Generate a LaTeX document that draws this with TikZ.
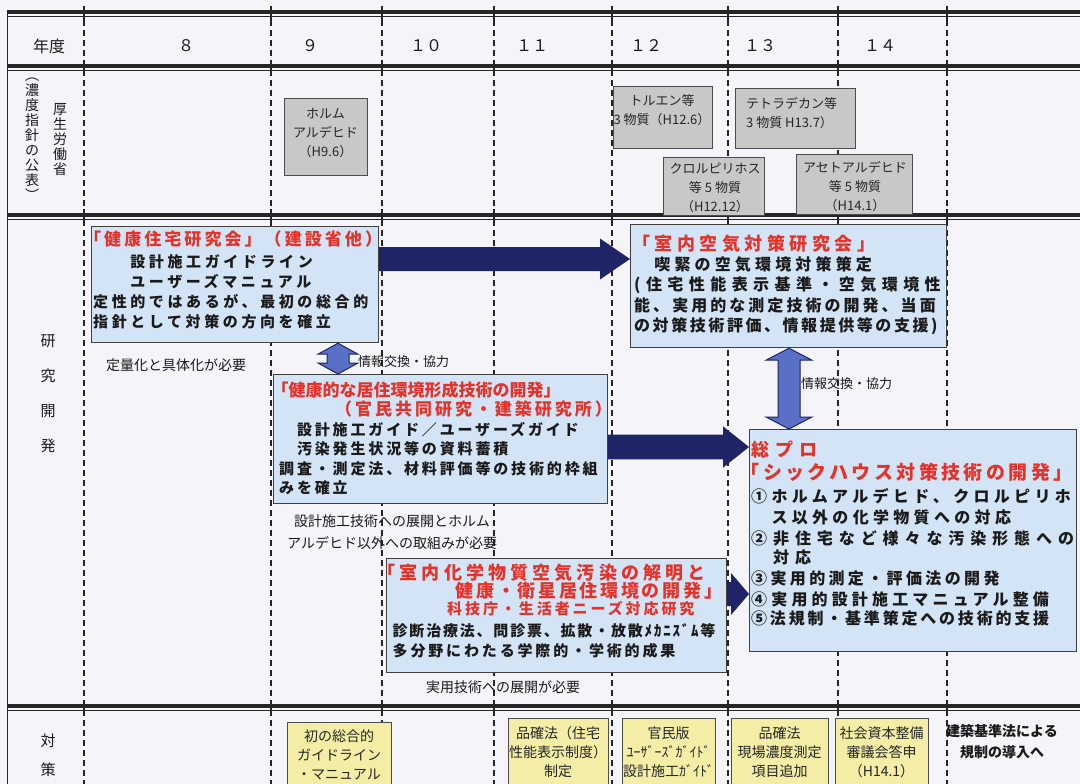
\documentclass[tikz,border=0pt]{standalone}
\usepackage{fontspec}
\setmainfont{Noto Sans CJK JP}
\usetikzlibrary{calc}
\definecolor{bg}{HTML}{F4F4F9}
\definecolor{boxblue}{HTML}{D2E4F6}
\definecolor{boxgray}{HTML}{C8C8C8}
\definecolor{boxyel}{HTML}{F3EDA6}
\definecolor{navy}{HTML}{1E2466}
\definecolor{midblue}{HTML}{5A6FC6}
\definecolor{jred}{HTML}{E63228}
\definecolor{ink}{HTML}{1A1A1A}
\newcommand\LS[1]{\addfontfeature{LetterSpace=#1}}
\newcommand\fs[2]{\fontsize{#1}{#2}\selectfont}
\newcommand\harrow[6]{%
  \path[#6] let \p1=(#1), \p2=(#2) in
  (\x1,\y2+#3pt) -- (\x2-#5pt,\y2+#3pt) -- (\x2-#5pt,\y2+#4pt) -- (\x2,\y2)
  -- (\x2-#5pt,\y2-#4pt) -- (\x2-#5pt,\y2-#3pt) -- (\x1,\y2-#3pt) -- cycle;}
\newcommand\vdarrow[6]{%
  \path[#6] let \p1=(#1), \p2=(#2) in
  (\x1,\y1) -- (\x1+#4pt,\y1-#5pt) -- (\x1+#3pt,\y1-#5pt) -- (\x1+#3pt,\y2+#5pt)
  -- (\x1+#4pt,\y2+#5pt) -- (\x1,\y2) -- (\x1-#4pt,\y2+#5pt) -- (\x1-#3pt,\y2+#5pt)
  -- (\x1-#3pt,\y1-#5pt) -- (\x1-#4pt,\y1-#5pt) -- cycle;}
\begin{document}
\begin{tikzpicture}[x=1pt,y=-1pt,
  rulethick/.style={line width=4pt, black!85},
  rulethin/.style={line width=1.3pt, black!85},
  colline/.style={line width=1.8pt, black!85, dash pattern=on 6pt off 4pt},
  coltick/.style={line width=1.8pt, black!85},
  bluebox/.style={draw=black!75, line width=1.2pt, fill=boxblue, inner sep=0, anchor=north west},
  graybox/.style={draw=black!70, line width=1pt, fill=boxgray, inner sep=0, anchor=north west},
  yelbox/.style={draw=black!70, line width=1pt, fill=boxyel, inner sep=0, anchor=north west},
  boxtext/.style={inner sep=0, anchor=north west, align=left, text=ink, font=\fs{15}{20}\bfseries},
  smalltext/.style={inner sep=0, anchor=north, align=center, text=black!85, font=\fs{13}{19}},
  yeltext/.style={inner sep=0, anchor=north, align=center, text=black!85, font=\fs{14}{19}},
  note/.style={inner sep=0, anchor=west, text=ink, font=\fs{14}{20}},
  label/.style={inner sep=0, align=center, text=ink, font=\fs{15}{20}},
  header/.style={inner sep=0, text=ink, font=\fs{16}{20}},
  bigarrow/.style={fill=navy},
  linkarrow/.style={fill=midblue, draw=navy, line width=1pt, line join=miter}
]
\useasboundingbox (0,0) rectangle (1080,784);
\clip (0,0) rectangle (1080,784);
\fill[bg] (0,0) rectangle (1080,784);

% column separators
\foreach \cx in {84,271,382,494,612,728,838,947} {
  \draw[colline] (\cx,10) -- (\cx,790);
  \foreach \ry in {12,66,215,706} \draw[coltick] (\cx,\ry-6) -- (\cx,\ry+9);
}
% horizontal double rules
\foreach \ry in {12,66,215,706} {
  \draw[rulethick] (7,\ry) -- (1080,\ry);
  \draw[rulethin] (7,\ry+4.5) -- (1080,\ry+4.5);
}
\draw[line width=1.5pt, black!85] (7.5,10) -- (7.5,784);

% header row
\node[header] (hnen) at (49,46) {年度};
\node[header] (y8) at (186,46) {８};
\node[header] (y9) at (310,46) {９};
\node[header] (y10) at (426,46) {１０};
\node[header] (y11) at (532,46) {１１};
\node[header] (y12) at (646,46) {１２};
\node[header] (y13) at (760,46) {１３};
\node[header] (y14) at (880,46) {１４};

% row labels
\node[label, font=\fs{14}{15}] (lnoudo) at (32,139) {︵\\濃\\度\\指\\針\\の\\公\\表\\︶};
\node[label, font=\fs{14}{15}] (lkousei) at (60,140) {厚\\生\\労\\働\\省};
\node[label, font=\fs{15}{35}] (lken) at (48,394) {研\\究\\開\\発};
\node[label, font=\fs{15}{29}] (ltai) at (48,755) {対\\策};

% gray boxes (guideline publications)
\node[graybox, minimum width=83pt, minimum height=77pt] (g1) at (284,98) {};
\node[smalltext] (g1t) at (325.5,108) {ホルム\\アルデヒド\\（H9.6）};
\node[graybox, minimum width=99pt, minimum height=62pt] (g2) at (613,86) {};
\node[smalltext] (g2t) at (662,94) {トルエン等\\3 物質（H12.6）};
\node[graybox, minimum width=120pt, minimum height=60pt] (g3) at (735,88) {};
\node[smalltext, anchor=north west, align=left] (g3t) at (746,97) {テトラデカン等\\3 物質 H13.7）};
\node[graybox, minimum width=101pt, minimum height=58pt] (g4) at (663,157) {};
\node[smalltext] (g4t) at (715,163) {クロルピリホス\\等 5 物質\\（H12.12）};
\node[graybox, minimum width=116pt, minimum height=60pt] (g5) at (796,154) {};
\node[smalltext] (g5t) at (855,161) {アセトアルデヒド\\等 5 物質\\（H14.1）};

% research boxes
\node[bluebox, minimum width=287pt, minimum height=116pt] (boxA) at (91,226) {};
\node[boxtext] (tA) at (93,231) {%
  \hspace*{-9pt}{\color{jred}\fs{17}{20}\LS{18}「健康住宅研究会」（建設省他）}\\[2pt]
  {\LS{24}　　設計施工ガイドライン}\\
  {\LS{24}　　ユーザーズマニュアル}\\
  {\LS{24}定性的ではあるが、最初の総合的}\\
  {\LS{24}指針として対策の方向を確立}};

\node[bluebox, minimum width=316pt, minimum height=123pt] (boxB) at (630,224) {};
\node[boxtext, font=\fs{16}{20.3}\bfseries] (tB) at (634,234.5) {%
  \hspace*{-2pt}{\color{jred}\fs{18}{20}\LS{25}「室内空気対策研究会」}\\
  {\LS{26}　喫緊の空気環境対策策定}\\
  {\LS{34}(住宅性能表示基準・空気環境性}\\
  {\LS{19}能、実用的な測定技術の開発、当面}\\
  {\LS{16}の対策技術評価、情報提供等の支援)}};

\node[bluebox, minimum width=334pt, minimum height=129pt] (boxC) at (273,374) {};
\node[boxtext, font=\fs{15}{19.5}\bfseries] (tC) at (279,381) {%
  \hspace*{-7.5pt}{\color{jred}\fs{17}{19}「健康的な居住環境形成技術の開発」}\\
  \hspace*{56pt}{\color{jred}\fs{17}{19}\LS{17.5}（官民共同研究・建築研究所）}\\
  {\LS{19}　設計施工ガイド／ユーザーズガイド}\\
  {\LS{19}　汚染発生状況等の資料蓄積}\\
  {\LS{19}調査・測定法、材料評価等の技術的枠組}\\
  {\LS{19}みを確立}};

\node[bluebox, minimum width=327pt, minimum height=222pt] (boxD) at (749,429) {};
\node[boxtext, font=\fs{16}{21}\bfseries] (tD) at (751,440.5) {%
  {\color{jred}\fs{18}{20}\LS{33}総プロ}\\[2pt]
  \hspace*{-10.5pt}{\color{jred}\fs{19}{20}\LS{18}「シックハウス対策技術の開発」}\\[2pt]
  {\LS{27}①ホルムアルデヒド、クロルピリホ}\\
  {\LS{27}　ス以外の化学物質への対応}\\
  {\LS{37}②非住宅など様々な汚染形態への}\\[-2pt]
  {\LS{37}　対応}\\
  {\LS{21}③実用的測定・評価法の開発}\\
  {\LS{26}④実用的設計施工マニュアル整備}\\[-2pt]
  {\LS{17.5}⑤法規制・基準策定への技術的支援}};

\node[bluebox, minimum width=340pt, minimum height=114pt] (boxE) at (386,558) {};
\node[boxtext, font=\fs{15}{19}\bfseries] (tE) at (392.5,563.5) {%
  \hspace*{-15pt}{\color{jred}\fs{18}{19}\LS{23}「室内化学物質空気汚染の解明と}\\[-1pt]
  \hspace*{63pt}{\color{jred}\fs{18}{19}\LS{15}健康・衛星居住環境の開発」}\\[-2pt]
  \hspace*{54.5pt}{\color{jred}\fs{15}{19}\LS{19.5}科技庁・生活者ニーズ対応研究}\\[3pt]
  {\LS{12}診断治療法、問診票、拡散・放散ﾒｶﾆｽﾞﾑ等}\\[1pt]
  {\LS{19}多分野にわたる学際的・学術的成果}};

% notes
\node[note] (n1) at (106,365) {定量化と具体化が必要};
\node[note, font=\fs{13}{20}] (n2) at (358,362) {情報交換・協力};
\node[note, font=\fs{13}{20}] (n3) at (801,384) {情報交換・協力};
\node[note, align=left, font=\fs{14}{22}] (n4) at (287,532) {\hspace*{7pt}設計施工技術への展開とホルム\\アルデヒド以外への取組みが必要};
\node[note] (n5) at (426,687) {実用技術への展開が必要};
\node[note, anchor=center, align=center, font=\fs{14}{21}\bfseries] (n6) at (1002,742) {建築基準法による\\規制の導入へ};

% measures (yellow boxes)
\node[yelbox, minimum width=104pt, minimum height=80pt] (m1) at (287,722) {};
\node[yeltext] (m1t) at (339,729) {初の総合的\\ガイドライン\\・マニュアル};
\node[yelbox, minimum width=100pt, minimum height=80pt] (m2) at (508,718) {};
\node[yeltext] (m2t) at (558,726.5) {品確法（住宅\\性能表示制度）\\制定};
\node[yelbox, minimum width=93pt, minimum height=80pt] (m3) at (622,718) {};
\node[yeltext] (m3t) at (668.5,726.5) {官民版\\ﾕｰｻﾞｰｽﾞｶﾞｲﾄﾞ\\設計施工ｶﾞｲﾄﾞ};
\node[yelbox, minimum width=97pt, minimum height=80pt] (m4) at (731,718) {};
\node[yeltext] (m4t) at (779.5,726.5) {品確法\\現場濃度測定\\項目追加};
\node[yelbox, minimum width=93pt, minimum height=80pt] (m5) at (835,718) {};
\node[yeltext] (m5t) at (881.5,726.5) {社会資本整備\\審議会答申\\（H14.1）};

% arrows between research efforts
\coordinate (a1s) at (boxA.east |- 0,259);
\coordinate (a1t) at (boxB.west |- 0,259);
\harrow{a1s}{a1t}{12}{20.5}{30}{bigarrow}
\coordinate (a2s) at (boxC.east |- 0,447);
\coordinate (a2t) at (boxD.west |- 0,447);
\harrow{a2s}{a2t}{12.4}{20.7}{26}{bigarrow}
\coordinate (a3s) at (boxE.east |- 0,594);
\coordinate (a3t) at (boxD.west |- 0,594);
\harrow{a3s}{a3t}{12}{21}{18}{bigarrow}
\coordinate (d1t) at (boxA.south -| 338,0);
\coordinate (d1b) at (boxC.north -| 338,0);
\vdarrow{d1t}{d1b}{11}{20}{11}{linkarrow}
\coordinate (d2t) at (boxB.south -| 789,0);
\coordinate (d2b) at (boxD.north -| 789,0);
\vdarrow{d2t}{d2b}{11}{23}{12}{linkarrow}
\end{tikzpicture}
\end{document}
